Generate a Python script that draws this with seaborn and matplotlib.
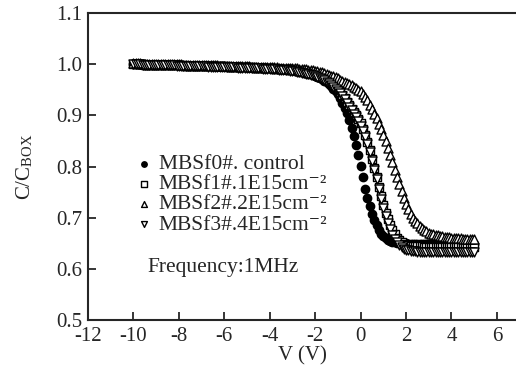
import numpy as np
import pandas as pd
import matplotlib
matplotlib.use('Agg')
import matplotlib.pyplot as plt
import seaborn as sns

# gate voltage sweep, -10 V to 5 V in 0.1 V steps
V = np.round(np.linspace(-10, 5, 151), 1)

f0_control = [
    1.000, 1.000, 1.000, 1.000, 0.999, 0.999, 0.999, 0.999, 0.999, 0.999,
    0.999, 0.999, 0.998, 0.998, 0.998, 0.998, 0.998, 0.998, 0.998, 0.998,
    0.998, 0.998, 0.997, 0.997, 0.997, 0.997, 0.997, 0.997, 0.997, 0.997,
    0.997, 0.996, 0.996, 0.996, 0.996, 0.996, 0.996, 0.996, 0.996, 0.996,
    0.996, 0.995, 0.995, 0.995, 0.995, 0.995, 0.994, 0.994, 0.994, 0.994,
    0.994, 0.994, 0.993, 0.993, 0.993, 0.993, 0.992, 0.992, 0.992, 0.992,
    0.992, 0.991, 0.991, 0.991, 0.990, 0.990, 0.990, 0.989, 0.989, 0.988,
    0.988, 0.987, 0.986, 0.985, 0.984, 0.983, 0.982, 0.981, 0.980, 0.979,
    0.977, 0.975, 0.973, 0.971, 0.968, 0.965, 0.961, 0.957, 0.952, 0.947,
    0.941, 0.934, 0.925, 0.915, 0.904, 0.890, 0.875, 0.860, 0.842, 0.822,
    0.800, 0.779, 0.757, 0.738, 0.722, 0.708, 0.696, 0.685, 0.676, 0.669,
    0.664, 0.660, 0.657, 0.655, 0.653, 0.652, 0.651, 0.651, 0.650, 0.650,
    0.650, 0.649, 0.649, 0.649, 0.649, 0.648, 0.648, 0.648, 0.648, 0.648,
    0.648, 0.648, 0.648, 0.648, 0.648, 0.648, 0.648, 0.648, 0.648, 0.648,
    0.648, 0.648, 0.648, 0.648, 0.648, 0.648, 0.648, 0.648, 0.648, 0.648,
    0.648]

f1_1e15 = [
    1.000, 1.000, 1.000, 1.000, 1.000, 0.999, 0.999, 0.999, 0.999, 0.999,
    0.999, 0.999, 0.999, 0.999, 0.998, 0.998, 0.998, 0.998, 0.998, 0.998,
    0.998, 0.998, 0.998, 0.997, 0.997, 0.997, 0.997, 0.997, 0.997, 0.997,
    0.997, 0.997, 0.996, 0.996, 0.996, 0.996, 0.996, 0.996, 0.996, 0.996,
    0.996, 0.996, 0.995, 0.995, 0.995, 0.995, 0.995, 0.995, 0.994, 0.994,
    0.994, 0.994, 0.994, 0.994, 0.993, 0.993, 0.993, 0.993, 0.993, 0.992,
    0.992, 0.992, 0.992, 0.991, 0.991, 0.991, 0.990, 0.990, 0.990, 0.990,
    0.990, 0.989, 0.988, 0.987, 0.986, 0.985, 0.984, 0.983, 0.982, 0.981,
    0.980, 0.979, 0.977, 0.975, 0.973, 0.970, 0.968, 0.965, 0.960, 0.956,
    0.952, 0.946, 0.940, 0.934, 0.927, 0.920, 0.913, 0.907, 0.900, 0.893,
    0.885, 0.874, 0.862, 0.848, 0.832, 0.815, 0.798, 0.779, 0.760, 0.742,
    0.725, 0.710, 0.697, 0.686, 0.676, 0.668, 0.661, 0.656, 0.652, 0.649,
    0.647, 0.646, 0.645, 0.645, 0.644, 0.644, 0.644, 0.644, 0.643, 0.643,
    0.643, 0.643, 0.643, 0.643, 0.643, 0.643, 0.643, 0.643, 0.643, 0.643,
    0.643, 0.643, 0.643, 0.643, 0.643, 0.643, 0.643, 0.643, 0.643, 0.643,
    0.643]

f2_2e15 = [
    1.002, 1.002, 1.002, 1.002, 1.001, 1.001, 1.001, 1.001, 1.001, 1.001,
    1.001, 1.001, 1.001, 1.000, 1.000, 1.000, 1.000, 1.000, 1.000, 1.000,
    1.000, 1.000, 0.999, 0.999, 0.999, 0.999, 0.999, 0.999, 0.999, 0.999,
    0.999, 0.998, 0.998, 0.998, 0.998, 0.998, 0.998, 0.998, 0.997, 0.997,
    0.997, 0.997, 0.997, 0.997, 0.997, 0.996, 0.996, 0.996, 0.996, 0.996,
    0.996, 0.996, 0.995, 0.995, 0.995, 0.995, 0.995, 0.995, 0.994, 0.994,
    0.994, 0.994, 0.994, 0.994, 0.993, 0.993, 0.993, 0.993, 0.993, 0.993,
    0.993, 0.992, 0.992, 0.991, 0.991, 0.990, 0.990, 0.989, 0.988, 0.988,
    0.987, 0.986, 0.985, 0.984, 0.982, 0.980, 0.979, 0.977, 0.976, 0.974,
    0.972, 0.970, 0.968, 0.966, 0.964, 0.962, 0.959, 0.956, 0.953, 0.950,
    0.947, 0.942, 0.936, 0.929, 0.921, 0.912, 0.903, 0.894, 0.884, 0.873,
    0.862, 0.849, 0.836, 0.822, 0.808, 0.794, 0.780, 0.766, 0.752, 0.739,
    0.727, 0.717, 0.708, 0.700, 0.694, 0.689, 0.684, 0.680, 0.676, 0.673,
    0.671, 0.669, 0.668, 0.667, 0.666, 0.665, 0.664, 0.663, 0.662, 0.662,
    0.661, 0.661, 0.660, 0.660, 0.660, 0.659, 0.659, 0.659, 0.658, 0.658,
    0.658]

f3_4e15 = [
    1.000, 1.000, 1.000, 1.000, 0.999, 0.999, 0.999, 0.999, 0.999, 0.999,
    0.999, 0.999, 0.998, 0.998, 0.998, 0.998, 0.998, 0.998, 0.998, 0.997,
    0.997, 0.997, 0.997, 0.997, 0.997, 0.997, 0.996, 0.996, 0.996, 0.996,
    0.996, 0.996, 0.996, 0.995, 0.995, 0.995, 0.995, 0.995, 0.995, 0.995,
    0.994, 0.994, 0.994, 0.994, 0.994, 0.994, 0.993, 0.993, 0.993, 0.993,
    0.993, 0.993, 0.992, 0.992, 0.992, 0.992, 0.992, 0.991, 0.991, 0.991,
    0.991, 0.990, 0.990, 0.990, 0.989, 0.989, 0.989, 0.988, 0.988, 0.987,
    0.987, 0.986, 0.985, 0.984, 0.983, 0.982, 0.981, 0.980, 0.979, 0.978,
    0.977, 0.975, 0.973, 0.971, 0.969, 0.966, 0.963, 0.960, 0.956, 0.952,
    0.948, 0.943, 0.937, 0.931, 0.924, 0.917, 0.910, 0.903, 0.896, 0.888,
    0.880, 0.869, 0.857, 0.843, 0.828, 0.811, 0.794, 0.775, 0.756, 0.737,
    0.719, 0.703, 0.689, 0.677, 0.667, 0.659, 0.652, 0.646, 0.642, 0.639,
    0.637, 0.636, 0.635, 0.634, 0.634, 0.633, 0.633, 0.633, 0.633, 0.632,
    0.632, 0.632, 0.632, 0.632, 0.632, 0.632, 0.632, 0.632, 0.632, 0.632,
    0.632, 0.632, 0.632, 0.632, 0.632, 0.632, 0.632, 0.632, 0.632, 0.632,
    0.632]

labels = ['MBSf0#. control',
          'MBSf1#.1E15cm\u207b\u00b2',
          'MBSf2#.2E15cm\u207b\u00b2',
          'MBSf3#.4E15cm\u207b\u00b2']

df = pd.concat([
    pd.DataFrame({'V': V, 'C': f0_control, 'sample': labels[0]}),
    pd.DataFrame({'V': V, 'C': f1_1e15, 'sample': labels[1]}),
    pd.DataFrame({'V': V, 'C': f2_2e15, 'sample': labels[2]}),
    pd.DataFrame({'V': V, 'C': f3_4e15, 'sample': labels[3]}),
])

sns.set_style('ticks')
plt.rcParams['font.family'] = ['Liberation Serif', 'DejaVu Serif']
plt.rcParams['mathtext.fontset'] = 'stix'
plt.rcParams['axes.unicode_minus'] = False

fig = plt.figure(figsize=(5.16, 3.78), dpi=100)
ax = fig.add_axes([88 / 516, 1 - 320 / 378, 1 - 88 / 516, (320 - 13) / 378])

styles = [('o', 'black', 36), ('s', 'white', 32), ('^', 'white', 42), ('v', 'white', 42)]
for lab, (mk, fc, sz) in zip(labels, styles):
    sns.scatterplot(data=df[df['sample'] == lab], x='V', y='C', marker=mk,
                    facecolor=fc, edgecolor='black', linewidth=1.0, s=sz,
                    label=lab, ax=ax)

ax.set_xlim(-12, 6.84)
ax.set_ylim(0.5, 1.1)
ax.set_xticks(np.arange(-12, 7, 2))
ax.set_yticks(np.arange(0.5, 1.11, 0.1))
ax.set_yticklabels(['%.1f' % t for t in np.arange(0.5, 1.11, 0.1)])
ax.tick_params(direction='in', length=6, width=1.3, labelsize=15, pad=4)
ax.tick_params(axis='x', pad=5)
for s in ['left', 'bottom', 'top']:
    ax.spines[s].set_linewidth(1.5)
ax.spines['right'].set_visible(False)

ax.set_xlabel('V (V)', fontsize=15, labelpad=0)
ax.set_ylabel('C/C$_{\\mathregular{BOX}}$', fontsize=15, labelpad=15)

ax.legend(loc='upper left', bbox_to_anchor=(0.08, 0.575), frameon=False,
          fontsize=15.5, markerscale=0.65, handletextpad=0.2,
          labelspacing=0.0, borderpad=0, handlelength=1.0)
ax.text(0.14, 0.17, 'Frequency:1MHz', transform=ax.transAxes,
        fontsize=15.5, va='center', ha='left')

fig.savefig('out.png', dpi=100)
